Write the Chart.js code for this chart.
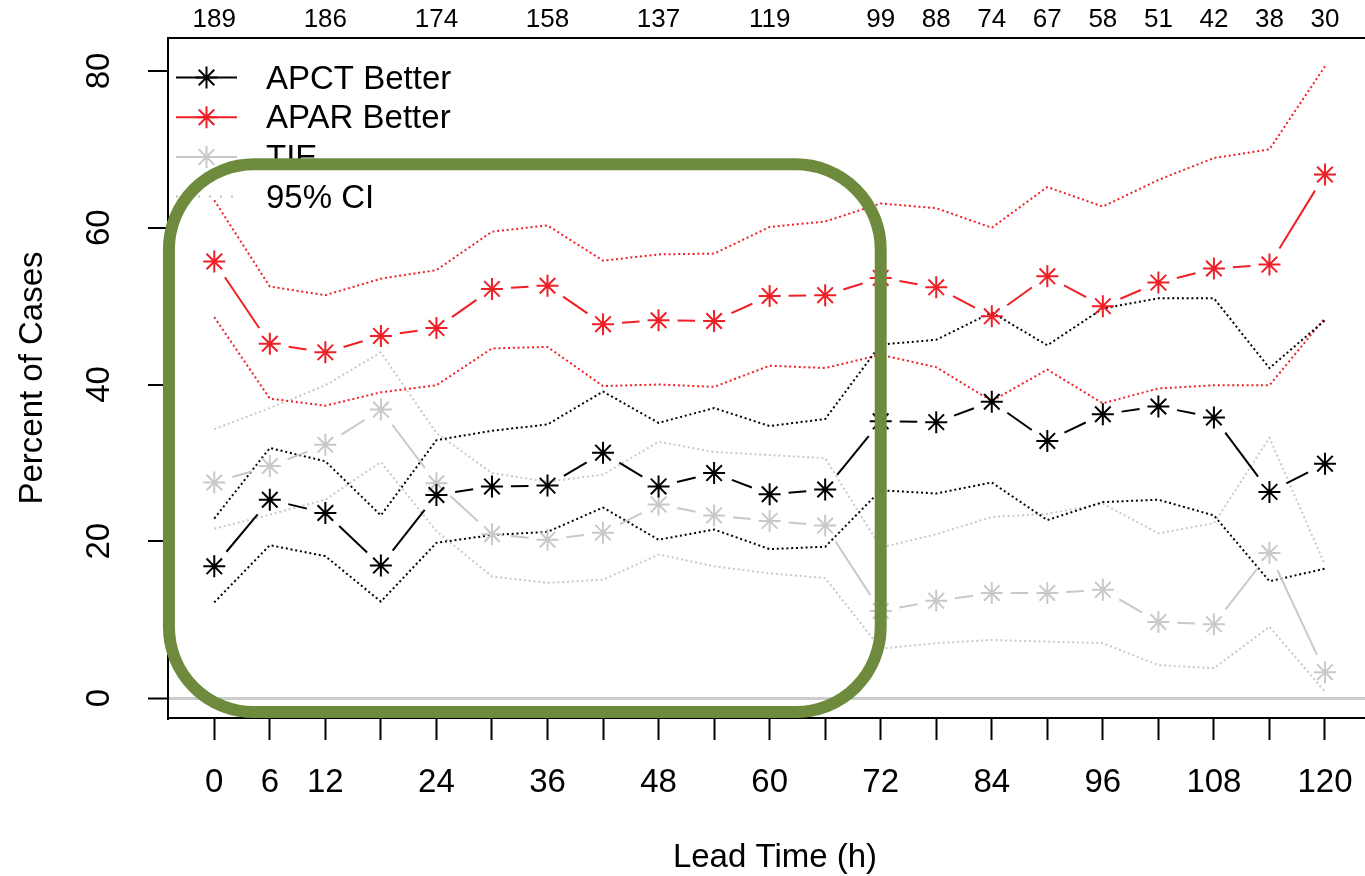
<!DOCTYPE html>
<html>
<head>
<meta charset="utf-8">
<title>Percent of Cases by Lead Time</title>
<script src="https://cdn.jsdelivr.net/npm/chart.js@4.4.1/dist/chart.umd.min.js"></script>
<style>
  html, body { margin: 0; padding: 0; background: #fff; overflow: hidden; }
  #quadro { position: relative; width: 1382px; height: 876px; }
</style>
</head>
<body>
<div id="quadro"><canvas id="grafico"></canvas></div>
<script>
// Lead times (h) and the percentages at each one
const leadHours = [0, 6, 12, 18, 24, 30, 36, 42, 48, 54, 60, 66, 72, 78, 84, 90, 96, 102, 108, 114, 120];

const apctBetter = [16.8, 25.3, 23.6, 16.9, 25.9, 27.0, 27.1, 31.3, 27.0, 28.7, 26.0, 26.6, 35.3, 35.2, 37.8, 32.8, 36.2, 37.2, 35.8, 26.3, 29.9];
const apctLower  = [12.2, 19.5, 18.1, 12.3, 19.8, 20.8, 21.2, 24.3, 20.2, 21.5, 19.0, 19.3, 26.5, 26.1, 27.5, 22.7, 25.0, 25.3, 23.3, 14.9, 16.5];
const apctUpper  = [22.9, 31.9, 30.2, 23.3, 32.9, 34.1, 34.9, 39.1, 35.1, 37.0, 34.7, 35.6, 45.1, 45.7, 49.2, 45.0, 49.7, 51.0, 51.0, 42.1, 48.2];

const aparBetter = [55.7, 45.2, 44.1, 46.2, 47.2, 52.2, 52.6, 47.7, 48.2, 48.1, 51.3, 51.4, 53.6, 52.4, 48.7, 53.8, 50.0, 53.0, 54.8, 55.3, 66.8];
const aparLower  = [48.6, 38.2, 37.3, 39.0, 39.9, 44.6, 44.8, 39.8, 40.0, 39.7, 42.4, 42.1, 43.8, 42.2, 37.9, 41.9, 37.6, 39.5, 39.9, 39.9, 48.5];
const aparUpper  = [63.5, 52.5, 51.4, 53.5, 54.6, 59.5, 60.3, 55.8, 56.6, 56.7, 60.1, 60.8, 63.1, 62.5, 60.0, 65.2, 62.7, 66.1, 68.9, 70.0, 80.6];

const tieCases = [27.5, 29.6, 32.3, 36.8, 27.4, 20.9, 20.2, 21.1, 24.7, 23.3, 22.6, 22.0, 11.1, 12.4, 13.4, 13.4, 13.8, 9.7, 9.4, 18.5, 3.3];
const tieLower = [21.6, 23.4, 25.3, 30.1, 21.3, 15.5, 14.7, 15.1, 18.3, 16.8, 15.9, 15.3, 6.3, 7.0, 7.4, 7.2, 7.0, 4.2, 3.8, 9.1, 0.8];
const tieUpper = [34.3, 37.0, 39.9, 44.1, 33.8, 28.7, 27.6, 28.5, 32.7, 31.4, 31.0, 30.6, 19.2, 20.9, 23.1, 23.5, 24.8, 21.0, 22.3, 33.2, 17.0];

// axis labels
const labeledHours = [0, 6, 12, 24, 36, 48, 60, 72, 84, 96, 108, 120];
const countHours = [0, 12, 24, 36, 48, 60, 72, 78, 84, 90, 96, 102, 108, 114, 120];
const caseCounts = [189, 186, 174, 158, 137, 119, 99, 88, 74, 67, 58, 51, 42, 38, 30];
const percentTicks = [0, 20, 40, 60, 80];

// highlighted window (hours / percent)
const focusHours = [-4.9, 72.0];
const focusPercent = [-1.8, 68.1];

const FONTE = '"Liberation Sans", Arial, Helvetica, sans-serif';
const PRETO = '#000000';
const VERMELHO = '#ef1f26';
const CINZA = '#c9c9c9';
const VERDE = '#6e8b3d';
const GAP_MARCA = 19;

const pares = (vals) => leadHours.map((h, i) => ({ x: h, y: vals[i] }));

// line broken around each marker, like type = "b"
function tracoComFolga(ctx) {
  const len = Math.hypot(ctx.p1.x - ctx.p0.x, ctx.p1.y - ctx.p0.y);
  const visivel = len - 2 * GAP_MARCA;
  if (visivel <= 0) return [0, len + 1];
  return [0, GAP_MARCA, visivel, GAP_MARCA];
}

function serie(label, vals, cor) {
  return {
    label,
    data: pares(vals),
    borderColor: cor,
    borderWidth: 2,
    tension: 0,
    pointStyle: 'star',
    pointRadius: 11,
    pointHoverRadius: 11,
    pointBorderWidth: 2,
    pointBorderColor: cor,
    pointBackgroundColor: cor,
    segment: { borderDash: tracoComFolga }
  };
}

function intervalo(label, vals, cor) {
  return {
    label,
    data: pares(vals),
    borderColor: cor,
    borderWidth: 2,
    borderDash: [2, 2.8],
    tension: 0,
    pointRadius: 0,
    pointHoverRadius: 0
  };
}

const itensLegenda = [
  { texto: 'APCT Better', cor: PRETO, estrela: true },
  { texto: 'APAR Better', cor: VERMELHO, estrela: true },
  { texto: 'TIE', cor: CINZA, estrela: true },
  { texto: '95% CI', cor: '#bdbdbd', estrela: false }
];

function desenharEstrela(ctx, x, y, r) {
  const d = r * Math.SQRT1_2;
  ctx.beginPath();
  ctx.moveTo(x - r, y); ctx.lineTo(x + r, y);
  ctx.moveTo(x, y - r); ctx.lineTo(x, y + r);
  ctx.moveTo(x - d, y - d); ctx.lineTo(x + d, y + d);
  ctx.moveTo(x - d, y + d); ctx.lineTo(x + d, y - d);
  ctx.stroke();
}

const legendaCanto = {
  id: 'legendaCanto',
  afterDatasetsDraw(chart) {
    const { ctx, chartArea } = chart;
    ctx.save();
    itensLegenda.forEach((item, i) => {
      const y = chartArea.top + 39.5 + i * 39.7;
      const x0 = chartArea.left + 8;
      const x1 = chartArea.left + 69;
      ctx.strokeStyle = item.cor;
      ctx.lineWidth = 2;
      ctx.setLineDash(item.estrela ? [] : [2, 9]);
      ctx.beginPath();
      ctx.moveTo(x0, y);
      ctx.lineTo(x1, y);
      ctx.stroke();
      ctx.setLineDash([]);
      if (item.estrela) desenharEstrela(ctx, (x0 + x1) / 2, y, 11);
      ctx.fillStyle = PRETO;
      ctx.font = `33px ${FONTE}`;
      ctx.textAlign = 'left';
      ctx.textBaseline = 'middle';
      ctx.fillText(item.texto, chartArea.left + 98, y + 2);
    });
    ctx.restore();
  }
};

// rounded frame drawn over everything else
const moldura = {
  id: 'moldura',
  afterDraw(chart) {
    const { ctx, scales: { x, y } } = chart;
    const esq = x.getPixelForValue(focusHours[0]);
    const dir = x.getPixelForValue(focusHours[1]);
    const topo = y.getPixelForValue(focusPercent[1]);
    const base = y.getPixelForValue(focusPercent[0]);
    ctx.save();
    ctx.strokeStyle = VERDE;
    ctx.lineWidth = 12;
    ctx.beginPath();
    ctx.roundRect(esq, topo, dir - esq, base - topo, 85);
    ctx.stroke();
    ctx.restore();
  }
};

new Chart(document.getElementById('grafico'), {
  type: 'line',
  data: {
    datasets: [
      serie('APCT Better', apctBetter, PRETO),
      serie('APAR Better', aparBetter, VERMELHO),
      serie('TIE', tieCases, CINZA),
      intervalo('APCT lower', apctLower, PRETO),
      intervalo('APCT upper', apctUpper, PRETO),
      intervalo('APAR lower', aparLower, VERMELHO),
      intervalo('APAR upper', aparUpper, VERMELHO),
      intervalo('TIE lower', tieLower, CINZA),
      intervalo('TIE upper', tieUpper, CINZA)
    ]
  },
  options: {
    responsive: true,
    maintainAspectRatio: false,
    devicePixelRatio: 1,
    animation: false,
    events: [],
    layout: { padding: 0, autoPadding: false },
    plugins: {
      legend: { display: false },
      tooltip: { enabled: false }
    },
    scales: {
      x: {
        type: 'linear',
        position: 'bottom',
        min: -5,
        max: 126.16,
        afterBuildTicks: (eixo) => { eixo.ticks = leadHours.map(v => ({ value: v })); },
        afterFit: (eixo) => { eixo.height = 158; eixo.paddingLeft = 0; eixo.paddingRight = 0; },
        grid: { drawOnChartArea: false, drawTicks: true, tickLength: 22, tickWidth: 2, tickColor: PRETO },
        border: { display: true, color: PRETO, width: 2 },
        ticks: {
          autoSkip: false,
          maxRotation: 0,
          padding: 23,
          color: PRETO,
          font: { family: FONTE, size: 33 },
          callback: (v) => labeledHours.includes(v) ? String(v) : ''
        },
        title: {
          display: true,
          text: 'Lead Time (h)',
          color: PRETO,
          font: { family: FONTE, size: 33, lineHeight: 1 },
          padding: { top: 0, bottom: 2 }
        }
      },
      xTop: {
        type: 'linear',
        position: 'top',
        min: -5,
        max: 126.16,
        afterBuildTicks: (eixo) => { eixo.ticks = countHours.map(v => ({ value: v })); },
        afterFit: (eixo) => { eixo.height = 38; eixo.paddingLeft = 0; eixo.paddingRight = 0; },
        grid: { drawOnChartArea: false, drawTicks: false },
        border: { display: true, color: PRETO, width: 2 },
        ticks: {
          autoSkip: false,
          maxRotation: 0,
          padding: 3,
          color: PRETO,
          font: { family: FONTE, size: 26 },
          callback: (v) => String(caseCounts[countHours.indexOf(v)])
        }
      },
      y: {
        type: 'linear',
        position: 'left',
        min: -2.55,
        max: 84.21,
        afterBuildTicks: (eixo) => { eixo.ticks = percentTicks.map(v => ({ value: v })); },
        afterFit: (eixo) => { eixo.width = 168; eixo.paddingTop = 0; eixo.paddingBottom = 0; },
        grid: {
          color: (c) => (c.tick && c.tick.value === 0) ? '#cccccc' : 'rgba(0,0,0,0)',
          lineWidth: (c) => (c.tick && c.tick.value === 0) ? 3 : 0,
          drawTicks: true,
          tickLength: 20,
          tickWidth: 2,
          tickColor: PRETO
        },
        border: { display: true, color: PRETO, width: 2 },
        ticks: {
          minRotation: 90,
          maxRotation: 90,
          crossAlign: 'center',
          padding: 30,
          color: PRETO,
          font: { family: FONTE, size: 33 }
        },
        title: {
          display: true,
          text: 'Percent of Cases',
          color: PRETO,
          font: { family: FONTE, size: 33, lineHeight: 1 },
          padding: { top: 16.5, bottom: 0 }
        }
      }
    }
  },
  plugins: [legendaCanto, moldura]
});
</script>
</body>
</html>
